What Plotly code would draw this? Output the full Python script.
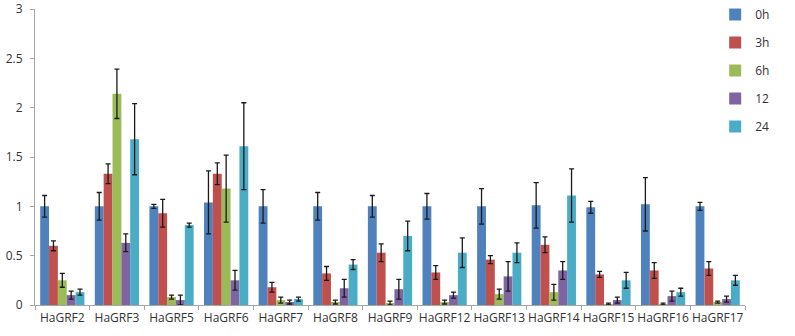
import plotly.graph_objects as go

genes = ["HaGRF2", "HaGRF3", "HaGRF5", "HaGRF6", "HaGRF7", "HaGRF8", "HaGRF9",
         "HaGRF12", "HaGRF13", "HaGRF14", "HaGRF15", "HaGRF16", "HaGRF17"]

series_names = ["0h", "3h", "6h", "12", "24"]

v_0h = [1.00, 1.00, 1.00, 1.04, 1.00, 1.00, 1.00, 1.00, 1.00, 1.01, 0.99, 1.02, 1.00]
e_0h = [0.11, 0.14, 0.02, 0.32, 0.17, 0.14, 0.11, 0.13, 0.18, 0.23, 0.06, 0.27, 0.04]

v_3h = [0.60, 1.33, 0.93, 1.33, 0.18, 0.32, 0.53, 0.33, 0.46, 0.61, 0.31, 0.35, 0.37]
e_3h = [0.05, 0.10, 0.14, 0.11, 0.05, 0.07, 0.09, 0.07, 0.04, 0.08, 0.03, 0.08, 0.07]

v_6h = [0.25, 2.14, 0.08, 1.18, 0.05, 0.03, 0.02, 0.03, 0.11, 0.13, 0.01, 0.01, 0.03]
e_6h = [0.07, 0.25, 0.02, 0.34, 0.03, 0.02, 0.02, 0.02, 0.05, 0.08, 0.01, 0.01, 0.01]

v_12 = [0.10, 0.63, 0.05, 0.25, 0.03, 0.17, 0.16, 0.10, 0.29, 0.35, 0.05, 0.09, 0.06]
e_12 = [0.04, 0.09, 0.05, 0.10, 0.02, 0.09, 0.10, 0.03, 0.15, 0.09, 0.03, 0.05, 0.03]

v_24 = [0.13, 1.68, 0.81, 1.61, 0.06, 0.41, 0.70, 0.53, 0.53, 1.11, 0.25, 0.13, 0.25]
e_24 = [0.03, 0.36, 0.02, 0.44, 0.02, 0.05, 0.15, 0.15, 0.10, 0.27, 0.08, 0.04, 0.05]

values = [v_0h, v_3h, v_6h, v_12, v_24]
errors = [e_0h, e_3h, e_6h, e_12, e_24]
colors = ["#4F81BD", "#C0504D", "#9BBB59", "#8064A2", "#4BACC6"]

fig = go.Figure()
for name, v, e, c in zip(series_names, values, errors, colors):
    fig.add_trace(go.Bar(
        x=genes, y=v, name=name, marker_color=c, marker_line_width=0,
        legendgroup=name,
        error_y=dict(type="data", array=e, visible=True, color="#1a1a1a",
                     thickness=1.3, width=2.5),
    ))

axis_col = "#A6A6A6"
fig.update_layout(
    width=795, height=336,
    margin=dict(l=35, r=50, t=9, b=31, autoexpand=False),
    paper_bgcolor="white", plot_bgcolor="white",
    barmode="group", bargap=0.19, bargroupgap=0,
    font=dict(family="Open Sans, Liberation Sans, sans-serif", size=12, color="#333333"),
    legend=dict(x=0.958, xanchor="left", y=1.0, yanchor="top", yref="container",
                bgcolor="rgba(0,0,0,0)", tracegroupgap=9,
                font=dict(size=12, color="#333333"), itemwidth=30),
    showlegend=True,
)
fig.update_xaxes(
    showline=True, linecolor=axis_col, linewidth=1,
    ticks="outside", tickson="boundaries", ticklen=4, tickcolor=axis_col,
    showgrid=False, tickfont=dict(size=12), tickangle=0, automargin=False,
    ticklabelstandoff=2,
)
fig.update_yaxes(
    range=[0, 3], dtick=0.5, tickformat="",
    showline=True, linecolor=axis_col, linewidth=1,
    ticks="outside", ticklen=4, tickcolor=axis_col,
    showgrid=False, zeroline=False, tickfont=dict(size=12), automargin=False,
    ticklabelstandoff=5,
)

fig.write_html("out.html")
